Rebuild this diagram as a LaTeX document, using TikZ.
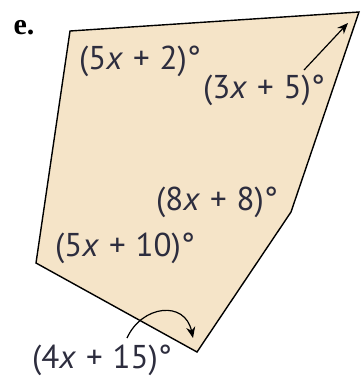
\documentclass[tikz,border=0pt]{standalone}
\usepackage{fontspec}
\newfontfamily\labelfont{PT Sans}
\newfontfamily\tagfont{Liberation Serif}
\usetikzlibrary{arrows.meta}
\definecolor{paper}{RGB}{245, 228, 200}
\definecolor{ink}{RGB}{45, 45, 62}

\newcommand{\angexpr}[2]{(#1\textit{x}\hspace{0.3em}+\hspace{0.3em}#2)\textdegree}

\begin{document}
\begin{tikzpicture}[x=1pt, y=-1pt,
  anglabel/.style={font=\labelfont\fontsize{33}{35}\selectfont, text=ink, inner sep=0pt},
  pointer/.style={line width=1.2pt, -{Stealth[length=11pt, width=9pt]}}]

  \useasboundingbox (0, 0) rectangle (361, 376);

  % corners of the pentagon
  \coordinate (topleft)  at (70, 31);
  \coordinate (topright) at (359, 12);
  \coordinate (notch)    at (291, 212);
  \coordinate (bottom)   at (197, 352);
  \coordinate (left)     at (36, 263);

  \fill[paper] (topleft) -- (topright) -- (notch) -- (bottom) -- (left) -- cycle;
  \draw[line width=1.4pt, line join=miter]
    (topleft) -- (topright) -- (notch) -- (bottom) -- (left) -- cycle;

  \node[font=\tagfont\bfseries\fontsize{30}{32}\selectfont, inner sep=0pt] (tag) at (24, 28) {e.};

  \node[anglabel] (angA) at (140, 61)  {\angexpr{5}{2}};
  \node[anglabel] (angB) at (264, 90)  {\angexpr{3}{5}};
  \node[anglabel] (angC) at (217, 202) {\angexpr{8}{8}};
  \node[anglabel] (angD) at (125, 248) {\angexpr{5}{10}};
  \node[anglabel] (angE) at (102, 360) {\angexpr{4}{15}};

  % arrows to the far corners
  \coordinate (tipB) at (348, 23);
  \coordinate (tipE) at (193, 338);
  \draw[pointer] (304, 70) -- (tipB);
  \draw[pointer] (127, 338) .. controls (142, 305) and (185, 300) .. (tipE);

\end{tikzpicture}
\end{document}
